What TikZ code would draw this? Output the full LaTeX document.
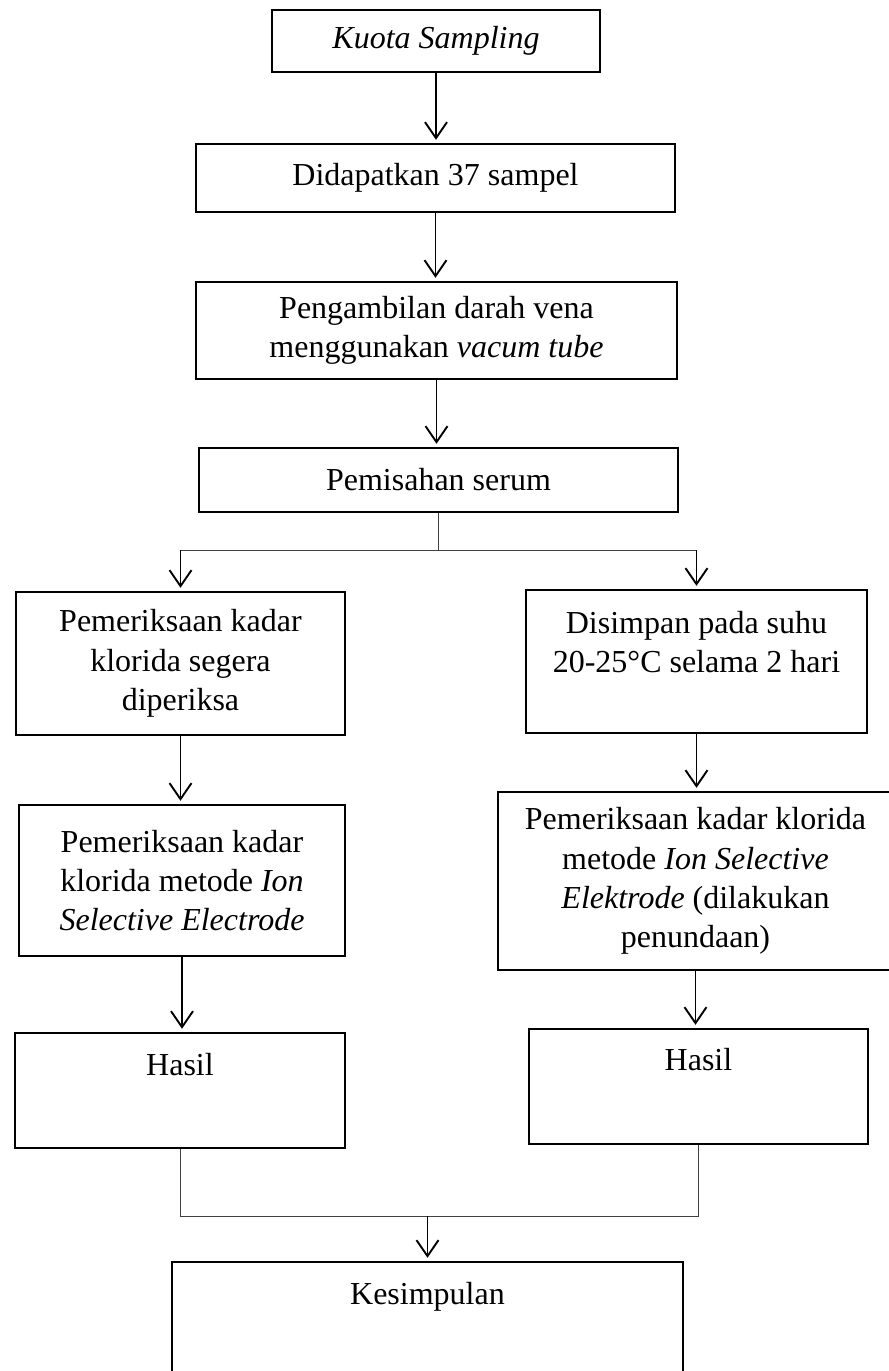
\documentclass[tikz,border=0pt]{standalone}
\usepackage{fontspec}
\setmainfont{Liberation Serif}
\usetikzlibrary{
  arrows.meta
}
\tikzset{
  % For the framed steps.
  box/.style={
    draw,
    line width=2.4pt,
    align=center,
    inner sep=0pt,
    font=\fontsize{32pt}{39.3pt}\selectfont},
%
  % For steps whose text sits at the top of the frame.
  toptext/.style 2 args={
    text height=#1,
    text depth=#2},
%
  % For arrows between steps.
  arrow/.style={
    line width=1.9pt,
    shorten >=3pt,
    -{Straight Barb[length=16pt,width=22pt]}},
%
  % For thin joining lines.
  link/.style={
    line width=0.9pt,
    black!75}
}

\begin{document}
\begin{tikzpicture}[x=1pt,y=-1pt]
  \useasboundingbox (0,0) rectangle (889,1371);

  \node[box, minimum width=328pt, minimum height=62pt] (kuota) at (436,41)
    {\textit{Kuota Sampling}};
  \node[box, minimum width=479pt, minimum height=68pt] (sampel) at (435.5,178)
    {Didapatkan 37 sampel};
  \node[box, minimum width=481pt, minimum height=97pt] (darah) at (436.5,330.5)
    {Pengambilan darah vena\\menggunakan \textit{vacum tube}};
  \node[box, minimum width=479pt, minimum height=64pt] (serum) at (438.5,480)
    {Pemisahan serum};

  \node[box, minimum width=329pt, minimum height=143pt] (segera) at (180.5,663.5)
    {Pemeriksaan kadar\\klorida segera\\diperiksa};
  \node[box, toptext={61.3pt}{38.5pt}, minimum width=341pt, minimum height=143pt] (simpan) at (696.5,661.5)
    {Disimpan pada suhu\\20-25°C selama 2 hari};
  \node[box, minimum width=326pt, minimum height=151pt] (iseL) at (182,880.5)
    {Pemeriksaan kadar\\klorida metode \textit{Ion}\\\textit{Selective Electrode}};
  \node[box, minimum width=395pt, minimum height=178pt] (iseR) at (695.5,881)
    {Pemeriksaan kadar klorida\\metode \textit{Ion Selective}\\\textit{Elektrode} (dilakukan\\penundaan)};
  \node[box, toptext={22pt}{51.8pt}, minimum width=330pt, minimum height=115pt] (hasilL) at (180,1090.5)
    {Hasil};
  \node[box, toptext={22pt}{53.8pt}, minimum width=339pt, minimum height=115pt] (hasilR) at (698.5,1086.5)
    {Hasil};
  \node[box, toptext={22pt}{61.8pt}, minimum width=511pt, minimum height=125pt] (kesimpulan) at (427.5,1324.5)
    {Kesimpulan};

  \coordinate (splitY) at (0,550);
  \coordinate (joinY) at (0,1216);

  \draw[arrow] (kuota.south) -- (kuota.south |- sampel.north);
  \draw[arrow] (sampel.south) -- (sampel.south |- darah.north);
  \draw[arrow] (darah.south) -- (darah.south |- serum.north);

  \draw[link] (serum.south) -- (serum.south |- splitY);
  \draw[link] (segera.north |- splitY) -- (simpan.north |- splitY);
  \draw[arrow] (segera.north |- splitY) -- (segera.north);
  \draw[arrow] (simpan.north |- splitY) -- (simpan.north);

  \draw[arrow] (segera.south) -- (segera.south |- iseL.north);
  \draw[arrow] (iseL.south) -- (iseL.south |- hasilL.north);
  \draw[arrow] (simpan.south) -- (simpan.south |- iseR.north);
  \draw[arrow] (iseR.south) -- (iseR.south |- hasilR.north);

  \draw[link] (hasilL.south) -- (hasilL.south |- joinY)
    -- (hasilR.south |- joinY) -- (hasilR.south);
  \draw[arrow] (kesimpulan.north |- joinY) -- (kesimpulan.north);
\end{tikzpicture}
\end{document}
